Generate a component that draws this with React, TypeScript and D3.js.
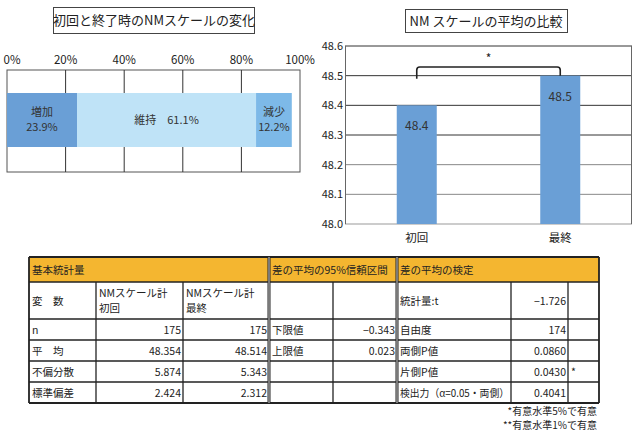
import React, { useEffect, useRef } from 'react';
import * as d3 from 'd3';

// stacked 100% bar (left)
const changeCats = ['増加', '維持', '減少'];
const changeVals = [23.9, 61.1, 12.2];
const changeColors = ['#6a9fd6', '#bfe3f7', '#7db9e8'];
const pctTicks = [0, 20, 40, 60, 80, 100];

// mean comparison (right)
const meanCats = ['初回', '最終'];
const meanVals = [48.4, 48.5];
const meanTicks = [48.0, 48.1, 48.2, 48.3, 48.4, 48.5, 48.6];

// table
const groupHeads = ['基本統計量', '差の平均の95%信頼区間', '差の平均の検定'];
const tableRows: string[][] = [
  ['変　数', 'NMスケール計\n初回', 'NMスケール計\n最終', '', '', '統計量:t', '−1.726', ''],
  ['n', '175', '175', '下限値', '−0.343', '自由度', '174', ''],
  ['平　均', '48.354', '48.514', '上限値', '0.023', '両側P値', '0.0860', ''],
  ['不偏分散', '5.874', '5.343', '', '', '片側P値', '0.0430', '*'],
  ['標準偏差', '2.424', '2.312', '', '', '検出力（α=0.05・両側）', '0.4041', ''],
];
const footnotes = ['*有意水準5%で有意', '**有意水準1%で有意'];

const FONT = '"Noto Sans CJK JP", "Noto Sans", sans-serif';
const isNum = (s: string) => /^[−-]?[\d.]+$/.test(s);

const App = () => {
  const ref = useRef<SVGSVGElement>(null);

  useEffect(() => {
    const svg = d3.select(ref.current);
    svg.selectAll('*').remove();
    svg.style('font-family', FONT);

    // ---------- left: stacked bar ----------
    const L = svg.append('g');
    L.append('rect').attr('x', 53.5).attr('y', 7.5).attr('width', 201).attr('height', 26)
      .attr('fill', 'white').attr('stroke', '#444');
    L.append('text').attr('x', 154).attr('y', 25).attr('text-anchor', 'middle')
      .attr('font-size', 13).attr('fill', '#222').text('初回と終了時のNMスケールの変化');

    const x = d3.scaleLinear().domain([0, 100]).range([7, 300]);
    const top = 70, bottom = 172;
    L.append('rect').attr('x', x(0)).attr('y', top).attr('width', x(100) - x(0)).attr('height', bottom - top)
      .attr('fill', 'white').attr('stroke', '#555');
    L.selectAll('.vg').data(pctTicks.slice(1, -1)).enter().append('line')
      .attr('x1', d => x(d)).attr('x2', d => x(d)).attr('y1', top).attr('y2', bottom)
      .attr('stroke', '#333');
    L.selectAll('.pt').data(pctTicks).enter().append('text')
      .attr('x', d => x(d) + (d === 0 ? 5 : 0)).attr('y', 64).attr('text-anchor', 'middle')
      .attr('font-size', 11.5).attr('fill', '#222').text(d => d + '%');

    let acc = 0;
    const segs = changeVals.map((v, i) => {
      const s = { cat: changeCats[i], v, x0: acc, x1: acc + v, color: changeColors[i] };
      acc += v;
      return s;
    });
    L.selectAll('.seg').data(segs).enter().append('rect')
      .attr('x', d => x(d.x0)).attr('width', d => x(d.x1) - x(d.x0))
      .attr('y', 93).attr('height', 54).attr('fill', d => d.color);
    segs.forEach((s, i) => {
      const cx = (x(s.x0) + x(s.x1)) / 2;
      if (i === 1) {
        L.append('text').attr('text-anchor', 'middle').attr('font-size', 11).attr('fill', '#333')
          .attr('x', cx).attr('y', 124).text(`${s.cat}　${s.v.toFixed(1)}%`);
      } else {
        L.append('text').attr('text-anchor', 'middle').attr('font-size', 11).attr('fill', '#333')
          .attr('x', cx).attr('y', 116).text(s.cat);
        L.append('text').attr('text-anchor', 'middle').attr('font-size', 11).attr('fill', '#333')
          .attr('x', cx).attr('y', 131).text(s.v.toFixed(1) + '%');
      }
    });

    // ---------- right: mean bars ----------
    const R = svg.append('g');
    R.append('rect').attr('x', 405.5).attr('y', 9.5).attr('width', 162).attr('height', 23)
      .attr('fill', 'white').attr('stroke', '#444');
    R.append('text').attr('x', 486).attr('y', 26).attr('text-anchor', 'middle')
      .attr('font-size', 13).attr('fill', '#222').text('NM スケールの平均の比較');

    const y = d3.scaleLinear().domain([48.0, 48.6]).range([224, 46]);
    const xb = d3.scalePoint().domain(meanCats).range([345, 632]).padding(0.5);
    const bw = 40;
    R.selectAll('.hg').data(meanTicks).enter().append('line')
      .attr('x1', 345).attr('x2', 632).attr('y1', d => y(d)).attr('y2', d => y(d))
      .attr('stroke', (d, i) => (i === 0 ? '#999' : i < 3 ? '#888' : '#333'));
    R.append('line').attr('x1', 345.5).attr('x2', 345.5).attr('y1', 46).attr('y2', 224).attr('stroke', '#666');
    R.append('line').attr('x1', 631.5).attr('x2', 631.5).attr('y1', 46).attr('y2', 224).attr('stroke', '#666');
    R.selectAll('.yt').data(meanTicks).enter().append('text')
      .attr('x', 343).attr('y', d => y(d) + 4).attr('text-anchor', 'end')
      .attr('font-size', 11).attr('fill', '#222').text(d => d.toFixed(1));

    R.selectAll('.bar').data(meanVals).enter().append('rect')
      .attr('x', (d, i) => (xb(meanCats[i]) as number) - bw / 2).attr('width', bw)
      .attr('y', d => y(d)).attr('height', d => y(48.0) - y(d)).attr('fill', '#6a9fd6');
    R.selectAll('.bl').data(meanVals).enter().append('text')
      .attr('x', (d, i) => xb(meanCats[i]) as number).attr('y', d => y(d) + 25)
      .attr('text-anchor', 'middle').attr('font-size', 12).attr('fill', '#333').text(d => d.toFixed(1));
    R.selectAll('.cl').data(meanCats).enter().append('text')
      .attr('x', d => xb(d) as number).attr('y', 242).attr('text-anchor', 'middle')
      .attr('font-size', 11.5).attr('fill', '#222').text(d => d);

    // significance bracket
    const bx0 = xb(meanCats[0]) as number, bx1 = xb(meanCats[1]) as number, by = 67, r = 3;
    R.append('path')
      .attr('d', `M${bx0},${y(48.49)} V${by + r} Q${bx0},${by} ${bx0 + r},${by} H${bx1 - r} Q${bx1},${by} ${bx1},${by + r} V${y(48.5)}`)
      .attr('fill', 'none').attr('stroke', '#222').attr('stroke-width', 1.6);
    R.append('text').attr('x', (bx0 + bx1) / 2).attr('y', 63).attr('text-anchor', 'middle')
      .attr('font-size', 12).attr('fill', '#222').text('*');

    // ---------- table ----------
    const T = svg.append('g').attr('font-size', 10.5).attr('fill', '#222');
    const colX = [29, 96, 183, 269, 333, 397, 511, 568, 599];
    const rowY = [257, 282, 319, 340, 361, 382, 403];
    const groupSpan = [[0, 3], [3, 5], [5, 8]];

    // header
    groupSpan.forEach(([a, b], i) => {
      T.append('rect').attr('x', colX[a]).attr('y', rowY[0]).attr('width', colX[b] - colX[a])
        .attr('height', rowY[1] - rowY[0]).attr('fill', '#f4b630');
      T.append('text').attr('x', colX[a] + 3).attr('y', rowY[0] + 17).text(groupHeads[i]);
    });

    tableRows.forEach((row, ri) => {
      const y0 = rowY[ri + 1], y1 = rowY[ri + 2];
      row.forEach((cell, ci) => {
        if (!cell) return;
        const num = isNum(cell);
        const lines = cell.split('\n');
        const tx = num ? colX[ci + 1] - 2 : colX[ci] + 3;
        const mid = (y0 + y1) / 2;
        const w = colX[ci + 1] - colX[ci] - 5;
        lines.forEach((ln, li) => {
          const t = T.append('text').attr('text-anchor', num ? 'end' : 'start')
            .attr('x', tx).attr('y', mid + 4 + (li - (lines.length - 1) / 2) * 15).text(ln);
          if (ln.length > 12) t.attr('textLength', w).attr('lengthAdjust', 'spacingAndGlyphs');
        });
      });
    });

    // grid lines
    rowY.forEach((ry, i) => {
      T.append('line').attr('x1', colX[0]).attr('x2', colX[8]).attr('y1', ry).attr('y2', ry)
        .attr('stroke', '#222').attr('stroke-width', i === 0 || i === rowY.length - 1 ? 1.8 : 1.3);
    });
    colX.forEach((cx, i) => {
      const thick = i === 3 || i === 5;
      const outer = i === 0 || i === 8;
      const inHeader = outer || thick;
      T.append('line').attr('x1', cx).attr('x2', cx)
        .attr('y1', inHeader ? rowY[0] : rowY[1]).attr('y2', rowY[6])
        .attr('stroke', '#222').attr('stroke-width', thick ? 3 : outer ? 1.8 : 1.3);
      if (thick) {
        T.append('line').attr('x1', cx).attr('x2', cx).attr('y1', rowY[0]).attr('y2', rowY[6])
          .attr('stroke', 'white').attr('stroke-width', 0.8);
      }
    });

    footnotes.forEach((f, i) => {
      T.append('text').attr('x', 597).attr('y', 415 + i * 14).attr('text-anchor', 'end')
        .attr('font-size', 10).text(f);
    });
  }, []);

  return (
    <svg ref={ref} width={640} height={437}
      style={{ position: 'absolute', left: 0, top: 0, background: 'white' }} />
  );
};

export default App;
